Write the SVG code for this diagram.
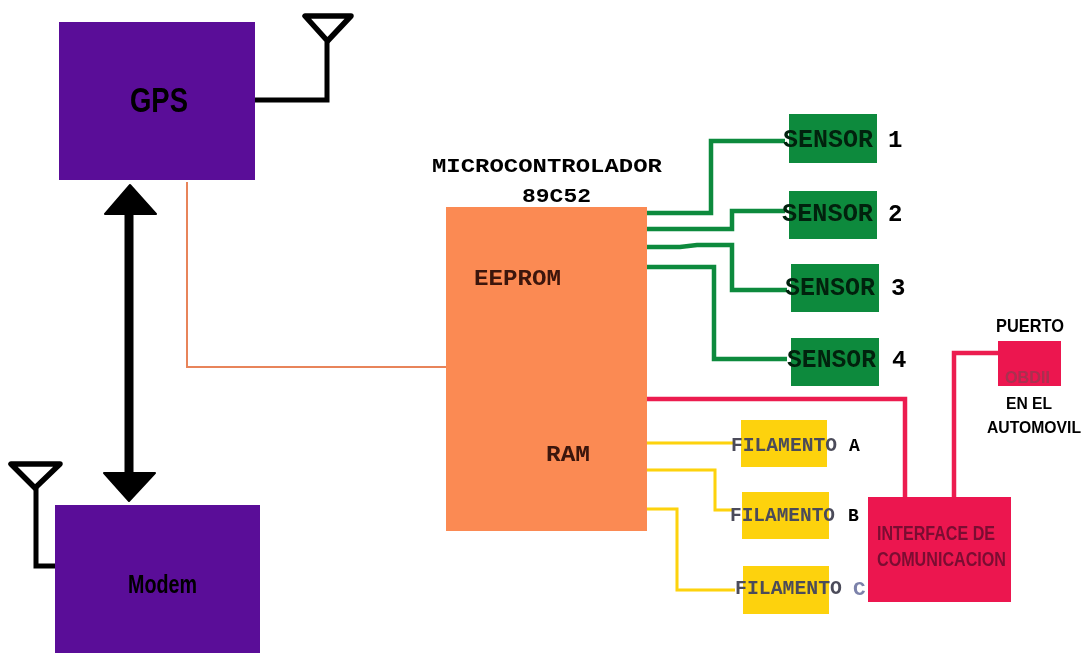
<svg xmlns="http://www.w3.org/2000/svg" width="1085" height="653" viewBox="0 0 1085 653">
<style>
.purple{fill:#5a0a98}
.orange{fill:#fb8a52}
.green{fill:#0f8a3c}
.yellow{fill:#fdd20c}
.red{fill:#ec1450}
.c{fill:none;stroke-linejoin:miter}
.cg{stroke:#0f8a3c;stroke-width:4.500px}
.cy{stroke:#fdd20c;stroke-width:3px}
.cr{stroke:#ec1f50;stroke-width:4.500px}
.co{stroke:#e8845a;stroke-width:2px}
.ck{stroke:#000;stroke-width:5px}
.ant{fill:#fff;stroke:#000;stroke-width:5.500px;stroke-linejoin:round}
.m{font-family:"Liberation Mono",monospace;font-weight:bold;fill:#000}
.s{font-family:"Liberation Sans",Arial,sans-serif;font-weight:bold;fill:#000}
.sen{font-size:25px;fill:#06200f}
.fil{font-size:20px;fill:#4c4c5a}
.num{font-size:24px}
.eep{font-size:22px;fill:#3a1208}
.head{font-size:21px}
.let{font-size:18px}
.lc{font-size:21px;fill:#7c82aa}
.ifc{font-size:20px;fill:#7a1030}
.obd{font-size:17px;fill:#a83050}
.lab{font-size:17px}
</style>
<defs><filter id="soft" x="-2%" y="-2%" width="104%" height="104%"><feGaussianBlur stdDeviation="0.7"/></filter></defs>
<rect width="1085" height="653" fill="#fff"/>
<g filter="url(#soft)">
<g id="connectors">
<path class="c ck" d="M255 100H327V42"/>
<path class="ant" d="M305 16H351L327.500 41Z"/>
<path class="c ck" d="M55 566H36V488"/>
<path class="ant" d="M11 464H60L35 488Z"/>
<path class="c" stroke="#000" stroke-width="9" d="M129 212V474"/>
<path d="M130 185L156 214H105Z" stroke="#000" stroke-width="2" stroke-linejoin="round"/>
<path d="M129 501L155 473H104Z" stroke="#000" stroke-width="2" stroke-linejoin="round"/>
<path class="c co" d="M187 182V367H446"/>
<path class="c cg" d="M647 213H711V141H785"/>
<path class="c cg" d="M647 229H732V211H785"/>
<path class="c cg" d="M647 247H680L697 245H732V290H787"/>
<path class="c cg" d="M647 267H714V359H787"/>
<path class="c cr" d="M647 399H905V497"/>
<path class="c cr" d="M954 497V353H998"/>
<path class="c cy" d="M647 443H735"/>
<path class="c cy" d="M647 470H715V510H733"/>
<path class="c cy" d="M647 509H677V590H735"/>
</g>
<g id="gps"><rect class="purple" x="59" y="22" width="196" height="158"/><text class="s" x="130" y="112" font-size="35" textLength="58" lengthAdjust="spacingAndGlyphs">GPS</text></g>
<g id="modem"><rect class="purple" x="55" y="505" width="205" height="148"/><text class="s" x="128" y="593" font-size="25" textLength="69" lengthAdjust="spacingAndGlyphs">Modem</text></g>
<g id="microcontrolador"><rect class="orange" x="446" y="207" width="201" height="324"/>
<text class="m head" x="432" y="172" textLength="230" lengthAdjust="spacingAndGlyphs">MICROCONTROLADOR</text>
<text class="m head" x="522" y="202" textLength="69" lengthAdjust="spacingAndGlyphs">89C52</text>
<text class="m eep" x="474" y="285" textLength="87" lengthAdjust="spacingAndGlyphs">EEPROM</text>
<text class="m eep" x="546" y="461" textLength="44" lengthAdjust="spacingAndGlyphs">RAM</text></g>
<g id="sensor1"><rect class="green" x="789" y="114" width="88" height="49"/><text class="m sen" x="783" y="147" textLength="90" lengthAdjust="spacingAndGlyphs">SENSOR</text><text class="m num" x="888" y="147">1</text></g>
<g id="sensor2"><rect class="green" x="789" y="191" width="88" height="48"/><text class="m sen" x="782" y="221" textLength="91" lengthAdjust="spacingAndGlyphs">SENSOR</text><text class="m num" x="888" y="221">2</text></g>
<g id="sensor3"><rect class="green" x="791" y="264" width="88" height="48"/><text class="m sen" x="785" y="295" textLength="90" lengthAdjust="spacingAndGlyphs">SENSOR</text><text class="m num" x="891" y="295">3</text></g>
<g id="sensor4"><rect class="green" x="791" y="338" width="88" height="48"/><text class="m sen" x="787" y="367" textLength="89" lengthAdjust="spacingAndGlyphs">SENSOR</text><text class="m num" x="892" y="367">4</text></g>
<g id="filamentoA"><rect class="yellow" x="741" y="420" width="86" height="47"/><text class="m fil" x="731" y="451" textLength="106" lengthAdjust="spacingAndGlyphs">FILAMENTO</text><text class="m let" x="849" y="451">A</text></g>
<g id="filamentoB"><rect class="yellow" x="742" y="492" width="87" height="47"/><text class="m fil" x="730" y="521" textLength="105" lengthAdjust="spacingAndGlyphs">FILAMENTO</text><text class="m let" x="848" y="521">B</text></g>
<g id="filamentoC"><rect class="yellow" x="743" y="566" width="86" height="48"/><text class="m fil" x="735" y="594" textLength="107" lengthAdjust="spacingAndGlyphs">FILAMENTO</text><text class="m lc" x="853" y="595">C</text></g>
<g id="interface"><rect class="red" x="868" y="497" width="143" height="105"/>
<text class="s ifc" x="877" y="540" textLength="118" lengthAdjust="spacingAndGlyphs">INTERFACE DE</text>
<text class="s ifc" x="877" y="566" textLength="129" lengthAdjust="spacingAndGlyphs">COMUNICACION</text></g>
<g id="puerto"><rect class="red" x="998" y="341" width="63" height="45"/>
<text class="s" x="996" y="332" font-size="18" textLength="68" lengthAdjust="spacingAndGlyphs">PUERTO</text>
<text class="s obd" x="1005" y="383" textLength="45" lengthAdjust="spacingAndGlyphs">OBDII</text>
<text class="s lab" x="1006" y="409" textLength="46" lengthAdjust="spacingAndGlyphs">EN EL</text>
<text class="s lab" x="987" y="433" textLength="94" lengthAdjust="spacingAndGlyphs">AUTOMOVIL</text></g>
</g>
</svg>
